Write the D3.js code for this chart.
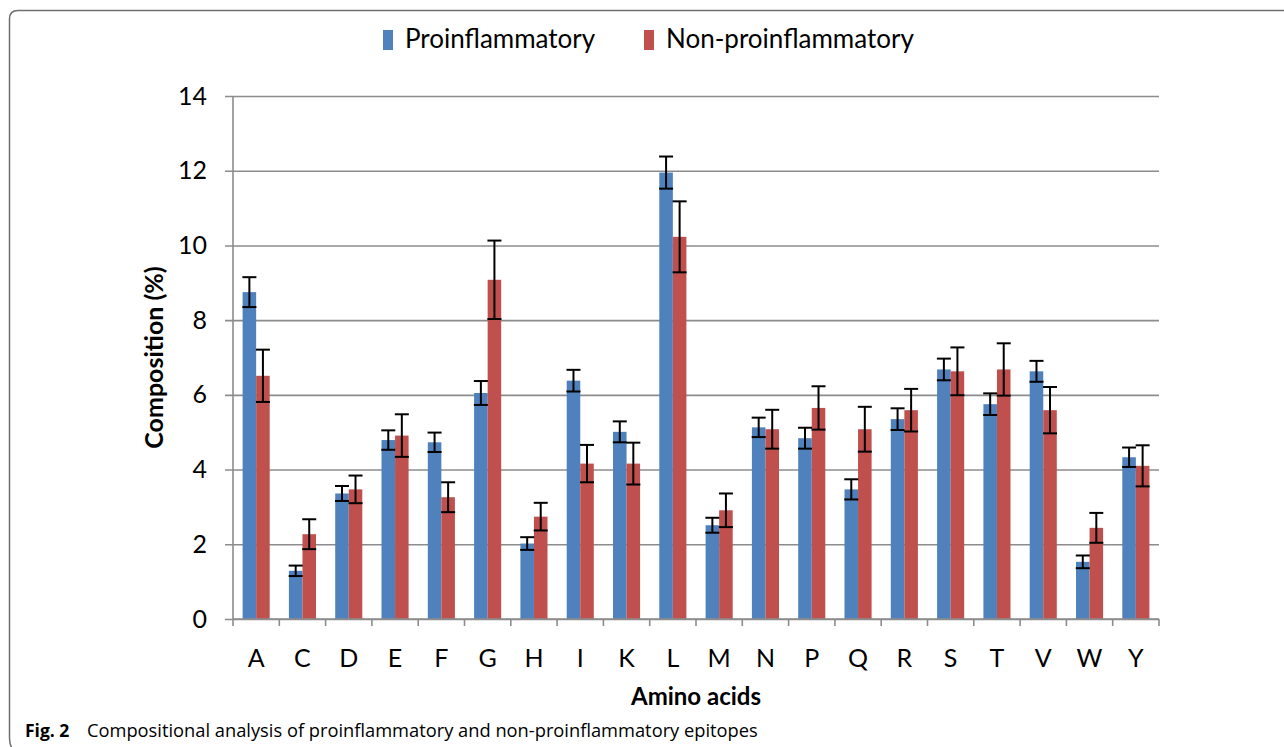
<!DOCTYPE html>
<html>
<head>
<meta charset="utf-8">
<script src="https://cdn.jsdelivr.net/npm/d3@7"></script>
<style>
  body { margin: 0; background: #fff; }
  svg { display: block; font-family: Lato, "Open Sans", sans-serif; }
</style>
</head>
<body>
<div id="chart"></div>
<script>
const width = 1284,
  height = 747,
  margin = ({ top: 96, right: 125, bottom: 128, left: 233 });

// amino acid categories
const aminoAcids = ["A","C","D","E","F","G","H","I","K","L","M","N","P","Q","R","S","T","V","W","Y"];
const seriesNames = ["Proinflammatory", "Non-proinflammatory"];
const seriesColors = ["#4f81bd", "#c0504d"];

// values (%)
const proValues = [8.75, 1.29, 3.36, 4.79, 4.73, 6.05, 2.02, 6.38, 5.01, 11.95, 2.51, 5.13, 4.84, 3.47, 5.35, 6.68, 5.75, 6.63, 1.53, 4.33];
const proErrors = [0.40, 0.14, 0.20, 0.26, 0.26, 0.32, 0.17, 0.29, 0.28, 0.43, 0.20, 0.26, 0.28, 0.27, 0.29, 0.29, 0.29, 0.28, 0.17, 0.26];
const nonValues = [6.51, 2.27, 3.47, 4.91, 3.26, 9.08, 2.74, 4.16, 4.16, 10.23, 2.91, 5.08, 5.65, 5.08, 5.59, 6.63, 6.68, 5.59, 2.44, 4.10];
const nonErrors = [0.70, 0.40, 0.37, 0.57, 0.40, 1.05, 0.37, 0.50, 0.56, 0.95, 0.45, 0.52, 0.58, 0.60, 0.57, 0.64, 0.70, 0.62, 0.40, 0.55];
const yTicks = [0, 2, 4, 6, 8, 10, 12, 14];

const data = aminoAcids.map((a, i) => ({
  aa: a,
  vals: [
    { s: 0, v: proValues[i], e: proErrors[i] },
    { s: 1, v: nonValues[i], e: nonErrors[i] }
  ]
}));

const svg = d3.select("#chart")
  .append("svg")
  .attr("width", width)
  .attr("height", height);

// frame of the figure panel
svg.append("path")
  .attr("d", "M 1290 10.5 L 18 10.5 Q 9.5 10.5 9.5 19 L 9.5 738 Q 9.5 747 14 750")
  .attr("fill", "none")
  .attr("stroke", "#6f6f6f")
  .attr("stroke-width", 1.5);

let x = d3.scaleBand()
  .domain(aminoAcids)
  .range([margin.left, width - margin.right])
  .padding(0);

let groupW = x.bandwidth() * 0.585;
let x1 = d3.scaleBand()
  .domain([0, 1])
  .range([0, groupW]);

let y = d3.scaleLinear()
  .domain([0, 14])
  .range([height - margin.bottom, margin.top]);

// y grid + axis
svg.append("g")
  .attr("class", "y-axis")
  .attr("transform", `translate(${margin.left},0)`)
  .call(d3.axisLeft(y)
    .tickValues(yTicks)
    .tickSize(-(width - margin.left - margin.right))
    .tickPadding(26)
    .tickFormat(d3.format("d")))
  .call(g => g.select(".domain").remove())
  .call(g => g.selectAll(".tick line")
    .attr("stroke", "#8c8c8c")
    .attr("stroke-width", 1.6)
    .attr("x1", -8))
  .call(g => g.selectAll(".tick text")
    .attr("font-size", 25)
    .attr("font-family", "Lato")
    .attr("fill", "#000"));

// vertical axis line
svg.append("line")
  .attr("x1", margin.left).attr("x2", margin.left)
  .attr("y1", y(14)).attr("y2", y(0))
  .attr("stroke", "#8c8c8c")
  .attr("stroke-width", 1.6);

// bars
let groups = svg.append("g")
  .selectAll("g")
  .data(data)
  .join("g")
  .attr("transform", d => `translate(${x(d.aa) + (x.bandwidth() - groupW) / 2},0)`);

groups.selectAll("rect")
  .data(d => d.vals)
  .join("rect")
  .attr("x", d => x1(d.s))
  .attr("width", x1.bandwidth())
  .attr("y", d => y(d.v))
  .attr("height", d => y(0) - y(d.v))
  .attr("fill", d => seriesColors[d.s]);

// error bars
let capW = 14;
let err = groups.selectAll("g.err")
  .data(d => d.vals)
  .join("g")
  .attr("class", "err")
  .attr("stroke", "#000")
  .attr("stroke-width", 2);

err.append("line")
  .attr("x1", d => x1(d.s) + x1.bandwidth() / 2)
  .attr("x2", d => x1(d.s) + x1.bandwidth() / 2)
  .attr("y1", d => y(d.v + d.e))
  .attr("y2", d => y(d.v - d.e));
err.append("line")
  .attr("x1", d => x1(d.s) + x1.bandwidth() / 2 - capW / 2)
  .attr("x2", d => x1(d.s) + x1.bandwidth() / 2 + capW / 2)
  .attr("y1", d => y(d.v + d.e))
  .attr("y2", d => y(d.v + d.e));
err.append("line")
  .attr("x1", d => x1(d.s) + x1.bandwidth() / 2 - capW / 2)
  .attr("x2", d => x1(d.s) + x1.bandwidth() / 2 + capW / 2)
  .attr("y1", d => y(d.v - d.e))
  .attr("y2", d => y(d.v - d.e));

// x axis with ticks between categories
let xAxis = svg.append("g")
  .attr("transform", `translate(0,${y(0)})`);

xAxis.append("line")
  .attr("x1", margin.left).attr("x2", width - margin.right)
  .attr("stroke", "#8c8c8c")
  .attr("stroke-width", 1.6);

xAxis.selectAll("line.tk")
  .data(aminoAcids.concat(["end"]))
  .join("line")
  .attr("class", "tk")
  .attr("x1", (d, i) => margin.left + i * x.bandwidth())
  .attr("x2", (d, i) => margin.left + i * x.bandwidth())
  .attr("y1", 0).attr("y2", 7)
  .attr("stroke", "#8c8c8c")
  .attr("stroke-width", 1.6);

xAxis.selectAll("text")
  .data(aminoAcids)
  .join("text")
  .attr("x", d => x(d) + x.bandwidth() / 2)
  .attr("y", 48)
  .attr("text-anchor", "middle")
  .attr("font-size", 25)
  .attr("fill", "#000")
  .text(d => d);

// axis titles
svg.append("text")
  .attr("transform", `translate(163,${(y(0) + y(14)) / 2}) rotate(-90)`)
  .attr("text-anchor", "middle")
  .attr("font-size", 25)
  .attr("font-weight", 700)
  .text("Composition (%)");

svg.append("text")
  .attr("x", (margin.left + width - margin.right) / 2)
  .attr("y", 705)
  .attr("text-anchor", "middle")
  .attr("font-size", 24)
  .attr("font-weight", 700)
  .text("Amino acids");

// legend
let legend = svg.append("g");
let legX = [383, 644];
seriesNames.forEach((name, i) => {
  legend.append("rect")
    .attr("x", legX[i]).attr("y", 30)
    .attr("width", 10).attr("height", 20)
    .attr("fill", seriesColors[i]);
  legend.append("text")
    .attr("x", legX[i] + 22).attr("y", 48)
    .attr("font-size", 26)
    .text(name);
});

// caption
let cap = svg.append("text")
  .attr("x", 25)
  .attr("y", 737)
  .attr("font-size", 18)
  .attr("font-family", "'Open Sans', sans-serif");
cap.append("tspan").attr("font-weight", 700).attr("font-size", 17.5).text("Fig. 2");
cap.append("tspan").attr("x", 87).attr("font-size", 18.3).text("Compositional analysis of proinflammatory and non-proinflammatory epitopes");
</script>
</body>
</html>
